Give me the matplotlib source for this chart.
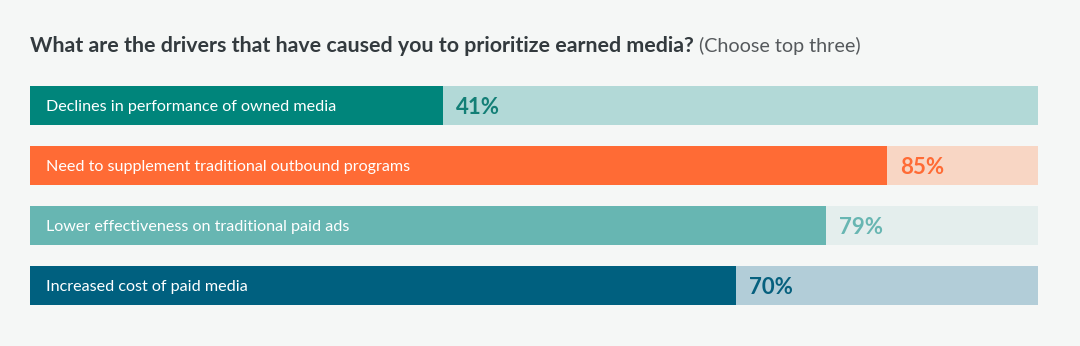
import matplotlib
matplotlib.use("Agg")
import matplotlib.pyplot as plt

categories = [
    "Declines in performance of owned media",
    "Need to supplement traditional outbound programs",
    "Lower effectiveness on traditional paid ads",
    "Increased cost of paid media",
]
values = [41, 85, 79, 70]
fill_colors = ["#00857b", "#ff6b35", "#67b6b2", "#00607f"]
track_colors = ["#b2d9d7", "#f8d6c4", "#e4eeed", "#b2cdd8"]
pct_colors = ["#137f76", "#ff6b35", "#68b6b2", "#06607e"]
title_main = "What are the drivers that have caused you to prioritize earned media?"
title_sub = " (Choose top three)"

W, H, DPI = 1080, 346, 100
bg = "#f5f7f6"
fig = plt.figure(figsize=(W / DPI, H / DPI), dpi=DPI, facecolor=bg)

left, right, top, bottom = 30, 1038, 86, 305
ax = fig.add_axes([left / W, (H - bottom) / H, (right - left) / W, (bottom - top) / H])
ax.set_facecolor(bg)
n = len(categories)
bh = 0.65
ys = list(range(n))
ax.barh(ys, [100] * n, height=bh, color=track_colors, left=0)
ax.barh(ys, values, height=bh, color=fill_colors, left=0)
ax.set_xlim(0, 100)
ax.set_ylim(n - 1 + bh / 2, -bh / 2)
ax.axis("off")

for i, (cat, v) in enumerate(zip(categories, values)):
    ax.annotate(cat, xy=(0, i), xytext=(11.5, 0), textcoords="offset points",
                ha="left", va="center_baseline", color="white", fontsize=11.6,
                family="Lato")
    ax.annotate(f"{v}%", xy=(v, i), xytext=(9.4, 0), textcoords="offset points",
                ha="left", va="center_baseline", color=pct_colors[i], fontsize=16,
                family="Lato", fontweight="bold")

t1 = fig.text(30 / W, 1 - 44 / H, title_main, ha="left", va="center_baseline",
              fontsize=15.4, family="Lato", fontweight="bold", color="#333a3e")
fig.canvas.draw()
bb = t1.get_window_extent()
fig.text(bb.x1 / W, 1 - 44 / H, title_sub, ha="left", va="center_baseline",
         fontsize=14.2, family="Lato", color="#55595c")

fig.savefig("out.png", dpi=DPI, facecolor=bg)
